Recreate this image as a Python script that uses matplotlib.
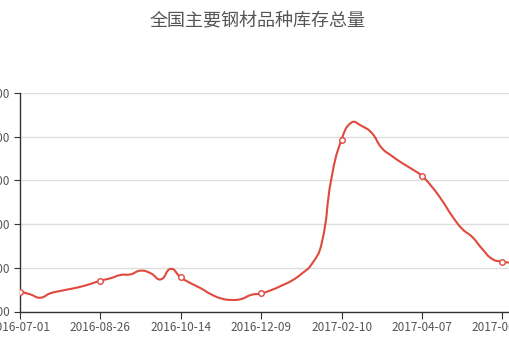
import numpy as np
import matplotlib.pyplot as plt
from matplotlib.path import Path
from matplotlib.patches import PathPatch

plt.rcParams['font.family'] = ['Noto Sans CJK SC', 'DejaVu Sans']

title = "全国主要钢材品种库存总量"

dates = [
    "2016-07-01", "2016-07-08", "2016-07-15", "2016-07-22", "2016-07-29", "2016-08-05", "2016-08-12", "2016-08-19",
    "2016-08-26", "2016-09-02", "2016-09-09", "2016-09-14", "2016-09-18", "2016-09-23", "2016-09-30", "2016-10-09",
    "2016-10-14", "2016-10-21", "2016-10-28", "2016-11-04", "2016-11-11", "2016-11-18", "2016-11-25", "2016-12-02",
    "2016-12-09", "2016-12-16", "2016-12-23", "2016-12-30", "2017-01-06", "2017-01-13", "2017-01-20", "2017-02-03",
    "2017-02-10", "2017-02-17", "2017-02-24", "2017-03-03", "2017-03-10", "2017-03-17", "2017-03-24", "2017-03-31",
    "2017-04-07", "2017-04-14", "2017-04-21", "2017-04-28", "2017-05-05", "2017-05-12", "2017-05-19", "2017-05-26",
    "2017-06-02", "2017-06-09", "2017-06-16",
]

stock = [
    891, 879, 863, 883, 894, 903, 913, 926,
    941, 952, 967, 970, 987, 975, 947, 995,
    956, 929, 906, 879, 860, 853, 857, 876,
    883, 898, 918, 940, 972, 1015, 1109, 1412,
    1587, 1665, 1649, 1617, 1548, 1512, 1480, 1452,
    1420, 1370, 1308, 1237, 1178, 1141, 1086, 1040,
    1028, 1022, 1015,
]

y_ticks = [800, 1000, 1200, 1400, 1600, 1800]
label_step = 8

line_color = "#e0493d"


def smooth_path(xs, ys, sx, sy, smooth=0.5):
    # bezier smoothing done in screen-like units so the curve shape
    # does not depend on the data scale
    px = np.asarray(xs, float) * sx
    py = np.asarray(ys, float) * sy
    n = len(px)
    cp_in = np.zeros((n, 2))
    cp_out = np.zeros((n, 2))
    for i in range(n):
        p = np.array([px[i], py[i]])
        if i == 0 or i == n - 1:
            cp_in[i] = p
            cp_out[i] = p
            continue
        prev = np.array([px[i - 1], py[i - 1]])
        nxt = np.array([px[i + 1], py[i + 1]])
        v = nxt - prev
        d0 = np.hypot(*(p - prev))
        d1 = np.hypot(*(p - nxt))
        s = d0 + d1
        if s:
            d0 /= s
            d1 /= s
        cp_in[i] = p - v * smooth * d0
        cp_out[i] = p + v * smooth * d1
    verts = [(px[0], py[0])]
    codes = [Path.MOVETO]
    for i in range(n - 1):
        verts += [tuple(cp_out[i]), tuple(cp_in[i + 1]), (px[i + 1], py[i + 1])]
        codes += [Path.CURVE4] * 3
    verts = np.array(verts)
    verts[:, 0] /= sx
    verts[:, 1] /= sy
    return Path(verts, codes)


fig = plt.figure(figsize=(5.09, 3.39), dpi=100)
ax = fig.add_axes([20 / 509, 27.5 / 339, 502.5 / 509, 218.5 / 339])

x = np.arange(len(stock))
ax.set_xlim(0, len(stock) - 1)
ax.set_ylim(y_ticks[0], y_ticks[-1])

path = smooth_path(x, stock, 10.05, 43.7 / 200)
ax.add_patch(PathPatch(path, fill=False, edgecolor=line_color, lw=1.5, zorder=3))
ax.plot(x[::label_step], np.array(stock)[::label_step], "o", ms=4,
        mfc="white", mec=line_color, mew=1, zorder=4)

ax.set_yticks(y_ticks)
ax.set_yticklabels([str(v) for v in y_ticks])
ax.set_xticks(x[::label_step])
ax.set_xticklabels(dates[::label_step])

ax.grid(axis="y", color="#dddddd", lw=1)
ax.set_axisbelow(True)
for side in ["top", "right"]:
    ax.spines[side].set_visible(False)
for side in ["left", "bottom"]:
    ax.spines[side].set_color("#333333")
    ax.spines[side].set_linewidth(1)

ax.tick_params(axis="x", length=5, color="#333333", labelcolor="#555555", labelsize=8.5, pad=2)
ax.tick_params(axis="y", length=4, color="#333333", labelcolor="#555555", labelsize=8.5, pad=3)

fig.text(258 / 509, 1 - 21 / 339, title, ha="center", va="center", fontsize=13, color="#555555")

fig.savefig("out.png", dpi=100)
